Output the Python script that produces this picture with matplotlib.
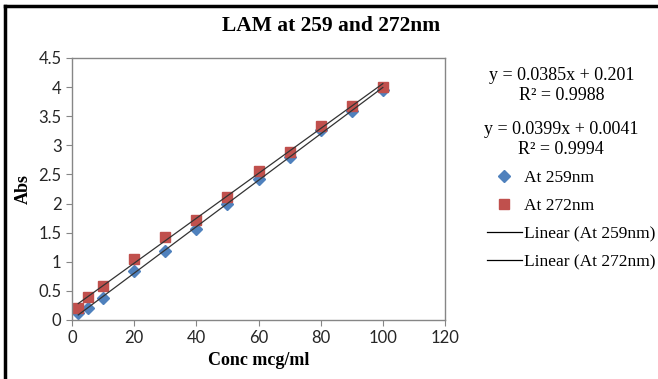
import numpy as np
import matplotlib
matplotlib.use("Agg")
import matplotlib.pyplot as plt
from matplotlib.lines import Line2D

conc = [2, 5, 10, 20, 30, 40, 50, 60, 70, 80, 90, 100]
abs_259 = [0.115, 0.20, 0.37, 0.84, 1.19, 1.56, 1.99, 2.42, 2.80, 3.27, 3.59, 3.95]
abs_272 = [0.20, 0.40, 0.58, 1.04, 1.42, 1.72, 2.11, 2.56, 2.89, 3.34, 3.67, 4.00]
eq_259 = ["y = 0.0399x + 0.0041", "R² = 0.9994"]
eq_272 = ["y = 0.0385x + 0.201", "R² = 0.9988"]
xticks = [0, 20, 40, 60, 80, 100, 120]
yticks = [0, 0.5, 1, 1.5, 2, 2.5, 3, 3.5, 4, 4.5]
ytick_labels = ["0", "0.5", "1", "1.5", "2", "2.5", "3", "3.5", "4", "4.5"]

W, H = 658, 379
fig = plt.figure(figsize=(W / 100, H / 100), dpi=100)
ax = fig.add_axes([72 / W, 1 - 320 / H, 373 / W, 262 / H])

blue = "#4F81BD"
red = "#C0504D"
serif = "Liberation Serif"
sans = "Lato"

x = np.array(conc, dtype=float)
c259 = np.polyfit(x, abs_259, 1)
c272 = np.polyfit(x, abs_272, 1)
xl = np.array([x.min(), x.max()])
ax.plot(xl, np.polyval(c259, xl), color="#333333", lw=0.9, zorder=3)
ax.plot(xl, np.polyval(c272, xl), color="#333333", lw=0.9, zorder=3)
ax.plot(conc, abs_259, linestyle="none", marker="D", ms=6, color=blue, zorder=2)
ax.plot(conc, abs_272, linestyle="none", marker="s", ms=7.5, color=red, zorder=2)

ax.set_xlim(0, 120)
ax.set_ylim(0, 4.5)
ax.set_xticks(xticks)
ax.set_yticks(yticks)
ax.set_yticklabels(ytick_labels)
for sp in ax.spines.values():
    sp.set_color("#868686")
    sp.set_linewidth(1)
ax.tick_params(direction="out", length=4, color="#868686", labelsize=12, labelcolor="#262626")
for lab in ax.get_xticklabels() + ax.get_yticklabels():
    lab.set_fontfamily(sans)

ax.set_xlabel("Conc mcg/ml", fontfamily=serif, fontweight="bold", fontsize=13, labelpad=4)
ax.set_ylabel("Abs", fontfamily=serif, fontweight="bold", fontsize=13, labelpad=5)

fig.text(331 / W, 1 - 26 / H, "LAM at 259 and 272nm", ha="center", va="center",
         fontfamily=serif, fontweight="bold", fontsize=15.5)

fig.text(562 / W, 1 - 76 / H, eq_272[0], ha="center", va="center", fontfamily=serif, fontsize=13)
fig.text(562 / W, 1 - 96 / H, eq_272[1], ha="center", va="center", fontfamily=serif, fontsize=13)
fig.text(561 / W, 1 - 129 / H, eq_259[0], ha="center", va="center", fontfamily=serif, fontsize=13)
fig.text(561 / W, 1 - 149 / H, eq_259[1], ha="center", va="center", fontfamily=serif, fontsize=13)

handles = [
    Line2D([], [], linestyle="none", marker="D", ms=6, color=blue),
    Line2D([], [], linestyle="none", marker="s", ms=7.5, color=red),
    Line2D([], [], color="black", lw=0.9),
    Line2D([], [], color="black", lw=0.9),
]
labels = ["At 259nm", "At 272nm", "Linear (At 259nm)", "Linear (At 272nm)"]
fig.legend(handles, labels, loc="upper left", bbox_to_anchor=(487 / W, 1 - 170 / H),
           frameon=False, borderpad=0, borderaxespad=0, handlelength=2.0,
           handletextpad=0.15, labelspacing=0.68,
           prop={"family": serif, "size": 12.5})

# outer chart frame (left and top visible)
fig.add_artist(Line2D([4.5 / W, 4.5 / W], [0, 1 - 6 / H], transform=fig.transFigure,
                      color="black", lw=2.5, solid_capstyle="projecting"))
fig.add_artist(Line2D([4.5 / W, 1], [1 - 6 / H, 1 - 6 / H], transform=fig.transFigure,
                      color="black", lw=2.5, solid_capstyle="projecting"))

fig.savefig("out.png", dpi=100)
